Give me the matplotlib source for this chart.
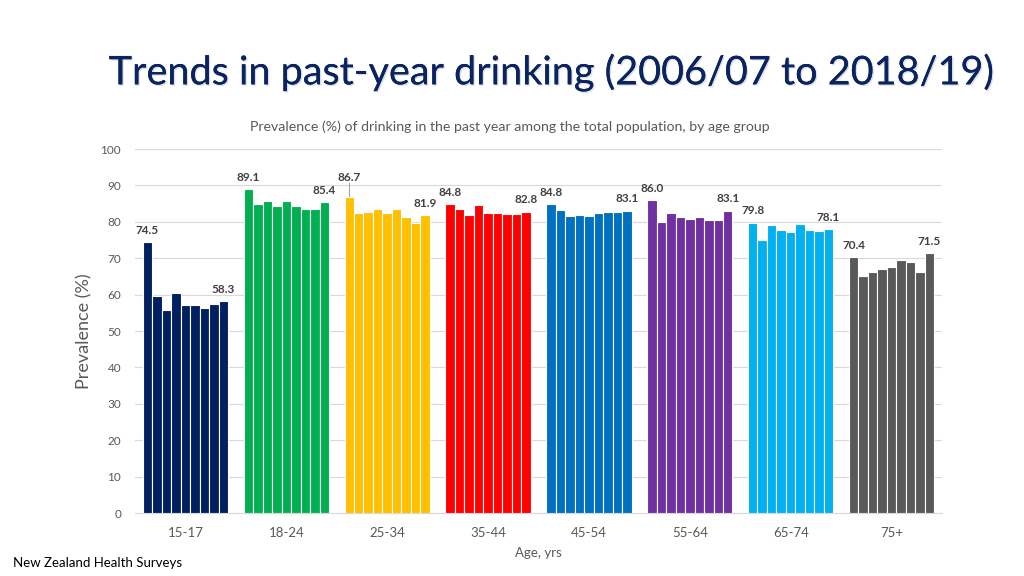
import matplotlib
matplotlib.use("Agg")
import matplotlib.pyplot as plt
import matplotlib.patheffects as pe
import numpy as np

plt.rcParams['font.family'] = ['Lato', 'DejaVu Sans']

age_groups = ["15-17", "18-24", "25-34", "35-44", "45-54", "55-64", "65-74", "75+"]
survey_years = ["2006/07", "2011/12", "2012/13", "2013/14", "2014/15",
                "2015/16", "2016/17", "2017/18", "2018/19"]
prev_15_17 = [74.5, 59.6, 55.8, 60.5, 57.1, 57.1, 56.2, 57.3, 58.3]
prev_18_24 = [89.1, 84.8, 85.6, 84.3, 85.7, 84.3, 83.6, 83.5, 85.4]
prev_25_34 = [86.7, 82.5, 82.7, 83.4, 82.5, 83.4, 81.4, 79.6, 81.9]
prev_35_44 = [84.8, 83.6, 81.9, 84.6, 82.5, 82.4, 82.1, 82.2, 82.8]
prev_45_54 = [84.8, 83.2, 81.6, 81.8, 81.6, 82.3, 82.8, 82.7, 83.1]
prev_55_64 = [86.0, 79.9, 82.4, 81.4, 80.8, 81.4, 80.4, 80.4, 83.1]
prev_65_74 = [79.8, 74.9, 79.0, 77.7, 77.1, 79.5, 77.7, 77.5, 78.1]
prev_75p = [70.4, 65.2, 66.1, 67.0, 67.6, 69.4, 69.0, 66.1, 71.5]
yticks = [0, 10, 20, 30, 40, 50, 60, 70, 80, 90, 100]

series = [prev_15_17, prev_18_24, prev_25_34, prev_35_44,
          prev_45_54, prev_55_64, prev_65_74, prev_75p]
colors = ["#002060", "#00B050", "#FFC000", "#FF0000",
          "#0070C0", "#7030A0", "#00B0F0", "#595959"]

fig = plt.figure(figsize=(10.24, 5.76), dpi=100)
ax = fig.add_axes([135/1024, 1-513/576, (942-135)/1024, (513-149)/576])

n = len(survey_years)
bw = 0.094
label_off = 3.2
for gi, (vals, col) in enumerate(zip(series, colors)):
    xs = gi + (np.arange(n) - (n-1)/2) * bw
    ax.bar(xs, vals, width=bw, color=col, edgecolor="white", linewidth=0.8, zorder=3)
    for idx in (0, n-1):
        off = label_off
        if gi == 2 and idx == 0:
            off = 5.5
            ax.plot([xs[idx], xs[idx]], [vals[idx] + 0.3, vals[idx] + off - 1.6],
                    color="#A6A6A6", linewidth=0.8, zorder=4)
        ax.text(xs[idx], vals[idx] + off, f"{vals[idx]:.1f}", ha="center", va="center",
                fontsize=8.5, fontweight="bold", color="#404040", zorder=4)

ax.set_xlim(-0.5, len(age_groups) - 0.5)
ax.set_ylim(0, 100)
ax.set_yticks(yticks)
ax.set_xticks(range(len(age_groups)))
ax.set_xticklabels(age_groups)
ax.tick_params(axis="both", length=0, colors="#595959")
ax.tick_params(axis="x", pad=10, labelsize=9.5)
ax.tick_params(axis="y", pad=10, labelsize=8.5)
ax.grid(axis="y", color="#D9D9D9", linewidth=0.8, zorder=0)
for s in ["top", "right", "left"]:
    ax.spines[s].set_visible(False)
ax.spines["bottom"].set_color("#D9D9D9")
ax.set_ylabel("Prevalence (%)", fontsize=13, color="#595959", labelpad=6)
ax.set_xlabel("Age, yrs", fontsize=9.5, color="#595959", labelpad=6)

fig.text(552/1024, 1-72/576, "Trends in past-year drinking (2006/07 to 2018/19)",
         ha="center", va="center", fontsize=28.5, color="#0A2462",
         path_effects=[pe.withSimplePatchShadow(offset=(1, -1), shadow_rgbFace="#B0B0B0", alpha=0.4), pe.Normal()])
fig.text(510/1024, 1-127/576,
         "Prevalence (%) of drinking in the past year among the total population, by age group",
         ha="center", va="center", fontsize=10.2, color="#595959")
fig.text(13/1024, 1-563/576, "New Zealand Health Surveys", ha="left", va="center",
         fontsize=9.5, color="black")

fig.savefig("out.png", dpi=100)
